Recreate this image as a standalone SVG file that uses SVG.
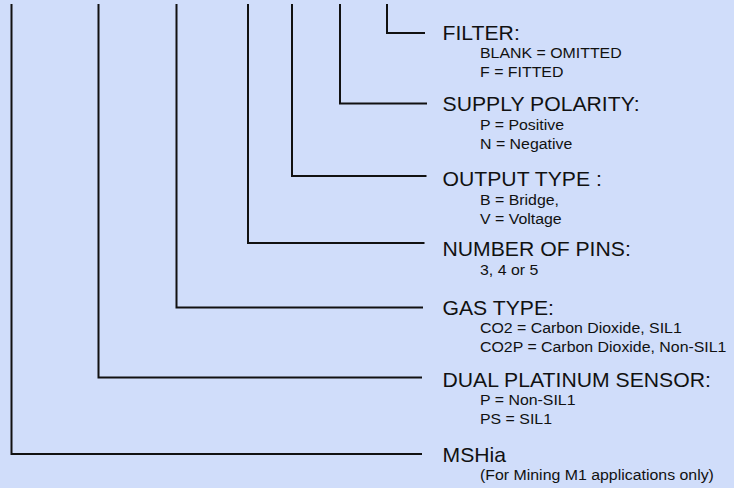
<svg xmlns="http://www.w3.org/2000/svg" width="734" height="488" viewBox="0 0 734 488">
<style>
.t{font-family:"Liberation Sans",Arial,sans-serif;font-size:20px;fill:#111}
.s{font-family:"Liberation Sans",Arial,sans-serif;font-size:15px;fill:#111}
.c{fill:none;stroke:#111;stroke-width:2}
</style>
<rect width="734" height="488" fill="#d0ddfa"/>
<g id="connectors" class="c">
<path d="M387,4 V33 H425"/>
<path d="M340,4 V103.5 H427"/>
<path d="M292,4 V176 H426.5"/>
<path d="M248,4 V243 H424.5"/>
<path d="M176.5,4 V307.5 H423"/>
<path d="M98.5,4 V377.5 H422"/>
<path d="M11.5,4 V454 H422"/>
</g>
<g id="filter" transform="translate(442.5,0) scale(1.06,1)">
<text class="t" x="0" y="40">FILTER:</text>
<text class="s" x="35.4" y="58">BLANK = OMITTED</text>
<text class="s" x="35.4" y="77">F = FITTED</text>
</g>
<g id="supply-polarity" transform="translate(442.5,0) scale(1.06,1)">
<text class="t" x="0" y="111.5">SUPPLY POLARITY:</text>
<text class="s" x="35.4" y="130.5">P = Positive</text>
<text class="s" x="35.4" y="149.5">N = Negative</text>
</g>
<g id="output-type" transform="translate(442.5,0) scale(1.06,1)">
<text class="t" x="0" y="186">OUTPUT TYPE :</text>
<text class="s" x="35.4" y="205.5">B = Bridge,</text>
<text class="s" x="35.4" y="224">V = Voltage</text>
</g>
<g id="number-of-pins" transform="translate(442.5,0) scale(1.06,1)">
<text class="t" x="0" y="256">NUMBER OF PINS:</text>
<text class="s" x="35.4" y="275">3, 4 or 5</text>
</g>
<g id="gas-type" transform="translate(442.5,0) scale(1.06,1)">
<text class="t" x="0" y="315">GAS TYPE:</text>
<text class="s" x="35.4" y="333.5">CO2 = Carbon Dioxide, SIL1</text>
<text class="s" x="35.4" y="352">CO2P = Carbon Dioxide, Non-SIL1</text>
</g>
<g id="dual-platinum-sensor" transform="translate(442.5,0) scale(1.06,1)">
<text class="t" x="0" y="387">DUAL PLATINUM SENSOR:</text>
<text class="s" x="35.4" y="405.5">P = Non-SIL1</text>
<text class="s" x="35.4" y="424.5">PS = SIL1</text>
</g>
<g id="mshia" transform="translate(442.5,0) scale(1.06,1)">
<text class="t" x="0" y="462">MSHia</text>
<text class="s" x="35.4" y="480">(For Mining M1 applications only)</text>
</g>
</svg>
